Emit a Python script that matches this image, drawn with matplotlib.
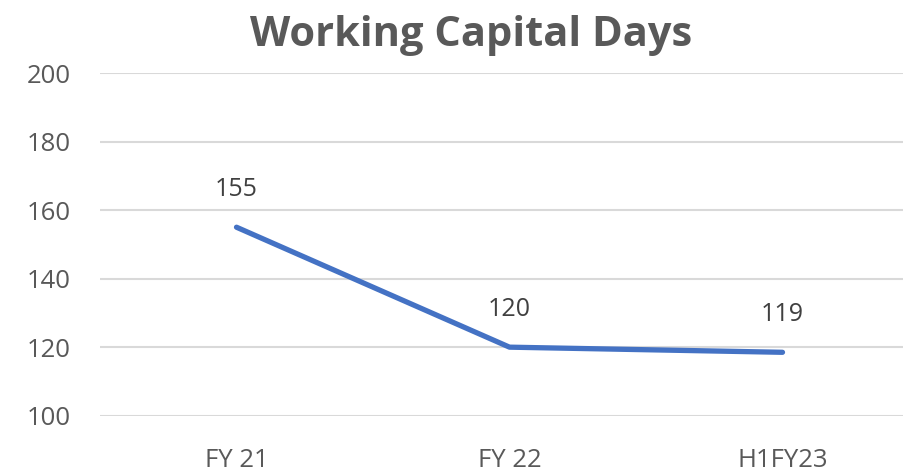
import matplotlib

matplotlib.use("Agg")
import matplotlib.pyplot as plt

categories = ["FY 21", "FY 22", "H1FY23"]
values = [155, 120, 118.5]
value_labels = ["155", "120", "119"]
y_ticks = [100, 120, 140, 160, 180, 200]

TITLE = "#595959"
TICK = "#595959"
LABEL = "#404040"
GRID = "#d9d9d9"
LINE = "#4472c4"

plt.rcParams["font.family"] = ["Open Sans", "DejaVu Sans"]

fig = plt.figure(figsize=(9.04, 4.71), dpi=100)
ax = fig.add_axes([100 / 904, 1 - 415.7 / 471, 819 / 904, (415.7 - 73) / 471])

x = list(range(len(categories)))
ax.plot(x, values, color=LINE, linewidth=3.8, solid_capstyle="round", solid_joinstyle="round", zorder=3)
for xi, v, lab in zip(x, values, value_labels):
    ax.annotate(lab, xy=(xi, v), xytext=(0, 27), textcoords="offset points",
                ha="center", va="center", fontsize=18, color=LABEL)

ax.set_xlim(-0.5, 2.5)
ax.set_ylim(100, 200)
ax.set_yticks(y_ticks)
ax.set_xticks(x)
ax.set_xticklabels(categories)
ax.grid(axis="y", color=GRID, linewidth=1.5)
ax.set_axisbelow(True)
for s in ax.spines.values():
    s.set_visible(False)
ax.tick_params(axis="both", length=0, labelsize=18.5, colors=TICK)
ax.tick_params(axis="x", pad=23)
ax.tick_params(axis="y", pad=21)

fig.text(471 / 904, 1 - 46 / 471, "Working Capital Days", ha="center", va="baseline",
         fontsize=30, fontweight="bold", color=TITLE)

fig.savefig("out.png", dpi=100, facecolor="white")
